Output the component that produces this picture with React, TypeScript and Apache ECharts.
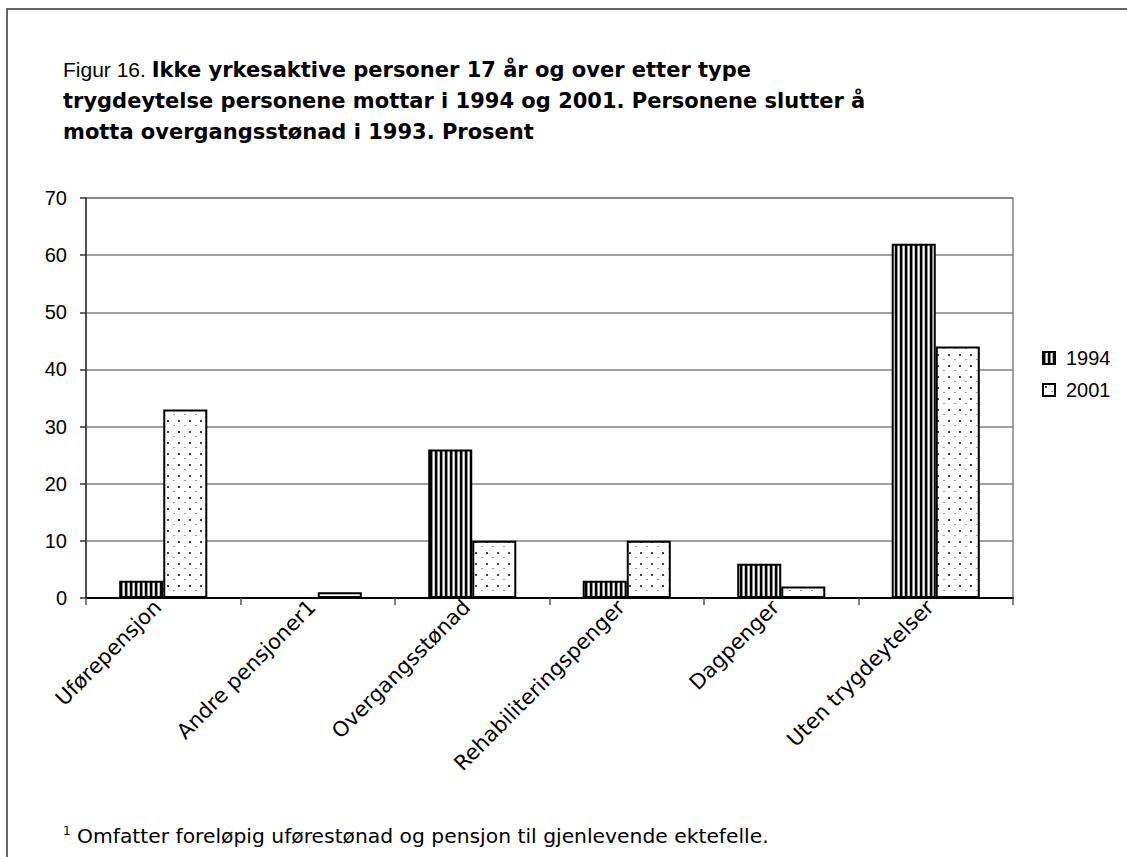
import React, { useEffect, useRef } from "react";
import * as echarts from "echarts";

const categories = [
  "Uførepensjon",
  "Andre pensjoner1",
  "Overgangsstønad",
  "Rehabiliteringspenger",
  "Dagpenger",
  "Uten trygdeytelser",
];
const values1994 = [3, 0, 26, 3, 6, 62];
const values2001 = [33, 1, 10, 10, 2, 44];
const seriesNames = ["1994", "2001"];
const yTicks = { min: 0, max: 70, interval: 10 };

const FONT = "'Liberation Sans', Arial, sans-serif";
const WIDE = "'DejaVu Sans', 'Liberation Sans', sans-serif";

function stripePattern(): HTMLCanvasElement {
  const c = document.createElement("canvas");
  c.width = 5;
  c.height = 5;
  const ctx = c.getContext("2d")!;
  ctx.fillStyle = "#ffffff";
  ctx.fillRect(0, 0, 5, 5);
  ctx.fillStyle = "#000000";
  ctx.fillRect(0, 0, 2, 5);
  ctx.fillStyle = "#8a8a8a";
  ctx.fillRect(2, 0, 1, 5);
  ctx.fillStyle = "#c0c0c0";
  ctx.fillRect(4, 0, 1, 5);
  return c;
}

function dotPattern(): HTMLCanvasElement {
  const c = document.createElement("canvas");
  c.width = 11;
  c.height = 11;
  const ctx = c.getContext("2d")!;
  ctx.fillStyle = "#ffffff";
  ctx.fillRect(0, 0, 11, 11);
  ctx.fillStyle = "#444444";
  ctx.fillRect(2, 2, 2, 2);
  ctx.fillStyle = "#a0a0a0";
  ctx.fillRect(8, 7, 2, 1);
  return c;
}

export default function App() {
  const ref = useRef<HTMLDivElement>(null);
  useEffect(() => {
    if (!ref.current) return;
    const chart = echarts.init(ref.current, undefined, { renderer: "svg" });
    const stripe = { image: stripePattern(), repeat: "repeat" };
    const dots = { image: dotPattern(), repeat: "repeat" };
    const option: any = {
      animation: false,
      backgroundColor: "#ffffff",
      textStyle: { fontFamily: FONT },
      grid: {
        left: 86,
        top: 198,
        right: 114,
        bottom: 259,
        show: true,
        borderColor: "#808080",
        borderWidth: 1.5,
        backgroundColor: "transparent",
      },
      legend: {
        orient: "vertical",
        left: 1037,
        top: 343,
        itemWidth: 12,
        itemHeight: 12,
        itemGap: 12,
        icon: "rect",
        textStyle: { fontSize: 20, color: "#000", fontFamily: FONT, padding: [0, 0, 0, 6] },
        data: seriesNames,
      },
      xAxis: {
        type: "category",
        data: categories,
        axisLine: { lineStyle: { color: "#000", width: 2 } },
        axisTick: { show: true, length: 7, alignWithLabel: false, lineStyle: { color: "#555", width: 1.5 } },
        axisLabel: {
          interval: 0,
          rotate: 45,
          fontSize: 21,
          color: "#000",
          fontFamily: WIDE,
          margin: 0,
          padding: [0, 8, 0, 0],
        },
        splitLine: { show: false },
      },
      yAxis: {
        type: "value",
        min: yTicks.min,
        max: yTicks.max,
        interval: yTicks.interval,
        axisLine: { show: true, lineStyle: { color: "#333", width: 1.5 } },
        axisTick: { show: true, length: 6, lineStyle: { color: "#333", width: 1.5 } },
        axisLabel: { fontSize: 20, color: "#000", fontFamily: FONT, margin: 19 },
        splitLine: { show: true, lineStyle: { color: "#808080", width: 1.5 } },
      },
      series: [
        {
          name: seriesNames[0],
          type: "bar",
          data: values1994,
          barGap: "0%",
          barCategoryGap: "43%",
          itemStyle: { color: stripe, borderColor: "#000", borderWidth: 2 },
        },
        {
          name: seriesNames[1],
          type: "bar",
          data: values2001,
          itemStyle: { color: dots, borderColor: "#000", borderWidth: 2 },
        },
      ],
      graphic: [
        {
          type: "rect",
          shape: { x: 7, y: 9, width: 1140, height: 880 },
          style: { fill: "none", stroke: "#333", lineWidth: 1.5 },
          silent: true,
        },
        {
          type: "text",
          left: 63,
          top: 54,
          style: {
            text:
              "{n|Figur 16. }{b|Ikke yrkesaktive personer 17 år og over etter type}\n" +
              "{b|trygdeytelse personene mottar i 1994 og 2001. Personene slutter å}\n" +
              "{b|motta overgangsstønad i 1993. Prosent}",
            fill: "#000",
            fontFamily: FONT,
            fontSize: 21,
            lineHeight: 31,
            rich: {
              n: { fontSize: 21, fontWeight: "normal", fontFamily: FONT, lineHeight: 31 },
              b: { fontSize: 21, fontWeight: "bold", fontFamily: WIDE, lineHeight: 31 },
            },
          },
        },
        {
          type: "text",
          left: 63,
          top: 825,
          style: {
            text: "{s|1}{t| Omfatter foreløpig uførestønad og pensjon til gjenlevende ektefelle.}",
            fill: "#000",
            fontFamily: WIDE,
            rich: {
              s: { fontSize: 12, fontFamily: WIDE, verticalAlign: "top", lineHeight: 22 },
              t: { fontSize: 20.3, fontFamily: WIDE, lineHeight: 22 },
            },
          },
        },
      ],
    };
    chart.setOption(option);
    return () => chart.dispose();
  }, []);
  return (
    <div
      ref={ref}
      style={{ position: "fixed", left: 0, top: 0, width: 1127, height: 857 }}
    />
  );
}
